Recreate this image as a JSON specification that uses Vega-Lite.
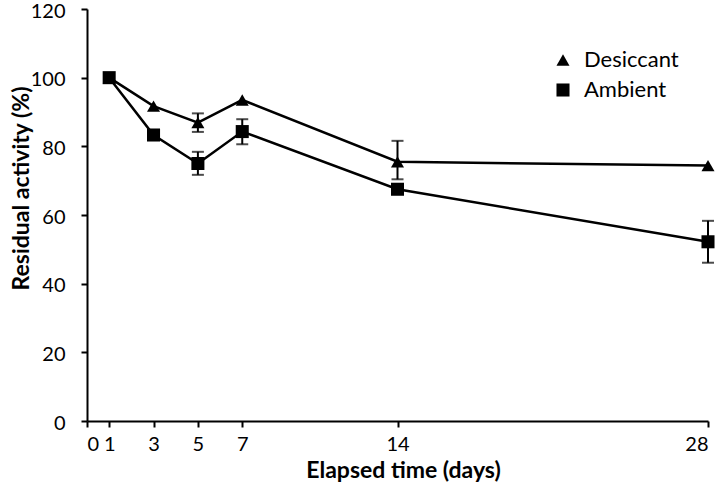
{
  "$schema": "https://vega.github.io/schema/vega-lite/v6.json",
  "width": 621,
  "height": 412,
  "autosize": {"type": "none"},
  "padding": {"left": 87, "top": 9, "right": 12, "bottom": 67},
  "background": "white",
  "config": {
    "view": {"stroke": null},
    "font": "Lato",
    "axis": {
      "domainColor": "black",
      "domainWidth": 2,
      "tickColor": "black",
      "tickWidth": 2,
      "tickSize": 6,
      "grid": false,
      "labelFont": "Lato",
      "labelFontSize": 20,
      "labelColor": "black",
      "titleFont": "Lato",
      "titleFontSize": 23,
      "titleFontWeight": "bold",
      "titleColor": "black"
    }
  },
  "data": {
    "values": [
      {"series": "Desiccant", "day": 1, "value": 100},
      {"series": "Desiccant", "day": 3, "value": 91.7},
      {"series": "Desiccant", "day": 5, "value": 86.9, "lo": 84.2, "hi": 89.6},
      {"series": "Desiccant", "day": 7, "value": 93.5},
      {"series": "Desiccant", "day": 14, "value": 75.5, "lo": 70.4, "hi": 81.6},
      {"series": "Desiccant", "day": 28, "value": 74.4},
      {"series": "Ambient", "day": 1, "value": 100},
      {"series": "Ambient", "day": 3, "value": 83.3},
      {"series": "Ambient", "day": 5, "value": 75.0, "lo": 71.7, "hi": 78.4},
      {"series": "Ambient", "day": 7, "value": 84.3, "lo": 80.6, "hi": 87.9},
      {"series": "Ambient", "day": 14, "value": 67.5},
      {"series": "Ambient", "day": 28, "value": 52.2, "lo": 46.1, "hi": 58.3}
    ]
  },
  "encoding": {
    "x": {
      "field": "day",
      "type": "quantitative",
      "scale": {"domain": [0, 28], "nice": false},
      "axis": {
        "values": [0, 1, 3, 5, 7, 14, 28],
        "labelPadding": 7,
        "title": "Elapsed time (days)",
        "titleX": 316,
        "titleY": 56,
        "titleBaseline": "alphabetic",
        "titleAnchor": "middle",
        "titleAlign": "center"
      }
    }
  },
  "layer": [
    {
      "mark": {"type": "rule", "color": "black", "strokeWidth": 2},
      "transform": [{"filter": "isValid(datum.lo)"}],
      "encoding": {
        "y": {"field": "lo", "type": "quantitative"},
        "y2": {"field": "hi"}
      }
    },
    {
      "mark": {"type": "tick", "color": "black", "orient": "horizontal", "size": 12, "thickness": 2},
      "transform": [{"filter": "isValid(datum.lo)"}],
      "encoding": {"y": {"field": "lo", "type": "quantitative"}}
    },
    {
      "mark": {"type": "tick", "color": "black", "orient": "horizontal", "size": 12, "thickness": 2},
      "transform": [{"filter": "isValid(datum.hi)"}],
      "encoding": {"y": {"field": "hi", "type": "quantitative"}}
    },
    {
      "mark": {"type": "line", "color": "black", "strokeWidth": 2.5},
      "encoding": {
        "y": {"field": "value", "type": "quantitative"},
        "detail": {"field": "series"},
        "order": {"field": "day"}
      }
    },
    {
      "mark": {"type": "point", "filled": true, "color": "black", "opacity": 1, "size": 170},
      "encoding": {
        "y": {
          "field": "value",
          "type": "quantitative",
          "scale": {"domain": [0, 120], "nice": false},
          "axis": {
            "values": [0, 20, 40, 60, 80, 100, 120],
            "labelPadding": 16,
            "labelOffset": 2,
            "title": "Residual activity (%)",
            "titleX": -59,
            "titleY": 179,
            "titleAngle": -90,
            "titleBaseline": "alphabetic",
            "titleAlign": "center"
          }
        },
        "shape": {
          "field": "series",
          "type": "nominal",
          "scale": {"domain": ["Desiccant", "Ambient"], "range": ["triangle-up", "square"]},
          "legend": {
            "title": null,
            "orient": "none",
            "legendX": 465,
            "legendY": 40,
            "padding": 0,
            "labelFont": "Lato",
            "labelFontSize": 22,
            "labelColor": "black",
            "labelOffset": 10,
            "symbolSize": 170,
            "symbolFillColor": "black",
            "symbolStrokeColor": "black",
            "rowPadding": 8
          }
        }
      }
    }
  ]
}
